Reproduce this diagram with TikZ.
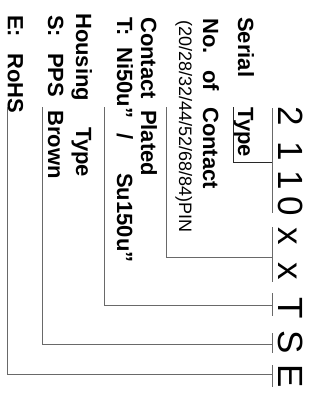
\documentclass[tikz,border=0pt]{standalone}
\usepackage{fontspec}
\setmainfont{Liberation Sans}
\definecolor{linegray}{RGB}{105,105,105}
\definecolor{linedark}{RGB}{40,40,40}
\begin{document}
\begin{tikzpicture}[x=1pt,y=-1pt,
  lbl/.style={rotate=-90,anchor=base west,inner sep=0pt,font=\fontsize{22}{22}\selectfont\bfseries},
  small/.style={rotate=-90,anchor=base west,inner sep=0pt,font=\fontsize{18}{18}\selectfont},
  code/.style={rotate=-90,anchor=base,inner sep=0pt,font=\fontsize{35}{35}\selectfont},
  ln/.style={draw=linegray,line width=0.9pt},
  lndark/.style={draw=linedark,line width=0.9pt}]
\useasboundingbox (0,0) rectangle (320,394);

% labels
\node[lbl] (serial) at (238,17) {\makebox[90pt][l]{Serial}Type};
\node[lbl] (noc) at (203,18) {\makebox[52pt][l]{No.}\makebox[37pt][l]{of}Contact};
\node[small] (pins) at (179,20) {(20/28/32/44/52/68/84)PIN};
\node[lbl] (plated) at (141,17) {\makebox[93pt][l]{Contact}Plated};
\node[lbl] (tni) at (117,17) {\makebox[30pt][l]{T:}\makebox[86pt][l]{Ni50u”}\makebox[40pt][l]{/}Su150u”};
\node[lbl] (housing) at (76,13) {\makebox[114pt][l]{Housing}Type};
\node[lbl] (pps) at (48,15) {\makebox[38pt][l]{S:}\makebox[57pt][l]{PPS}Brown};
\node[lbl] (rohs) at (8,15) {\makebox[38pt][l]{E:}RoHS};

% code letters
\node[code] (c1) at (278,116) {2};
\node[code] (c2) at (278,151) {1};
\node[code] (c3) at (278,180) {1};
\node[code] (c4) at (278,206) {0};
\node[code] (c5) at (278,236) {x};
\node[code] (c6) at (278,271) {x};
\node[code] (c7) at (278,308) {T};
\node[code] (c8) at (278,342) {S};
\node[code] (c9) at (278,376) {E};

% bar segments under code
\coordinate (b1s) at (272,108); \coordinate (b1e) at (272,213);
\coordinate (b2s) at (272,227); \coordinate (b2e) at (272,282);
\coordinate (b3s) at (272,293); \coordinate (b3e) at (272,316);
\coordinate (b4s) at (272,333); \coordinate (b4e) at (272,353);
\coordinate (b5s) at (272,365); \coordinate (b5e) at (272,387);
\draw[ln] (b1s) -- (b1e);
\draw[ln] (b2s) -- (b2e);
\draw[ln] (b3s) -- (b3e);
\draw[ln] (b4s) -- (b4e);
\draw[ln] (b5s) -- (b5e);

% junctions on bars
\coordinate (j1) at (272,162);
\coordinate (j2) at (272,257);
\coordinate (j3) at (272,305);
\coordinate (j4) at (272,344);
\coordinate (j5) at (272,374);

% start points under labels
\coordinate (u1) at (233,107);
\coordinate (u2) at (166,107);
\coordinate (u3) at (104,107);
\coordinate (u4) at (42,107);
\coordinate (u5) at (7,107);

\draw[lndark] (u1) |- (j1);
\draw[ln] (u2) |- (j2);
\draw[ln] (u3) |- (j3);
\draw[ln] (u4) |- (j4);
\draw[ln] (u5) |- (j5);
\end{tikzpicture}
\end{document}
